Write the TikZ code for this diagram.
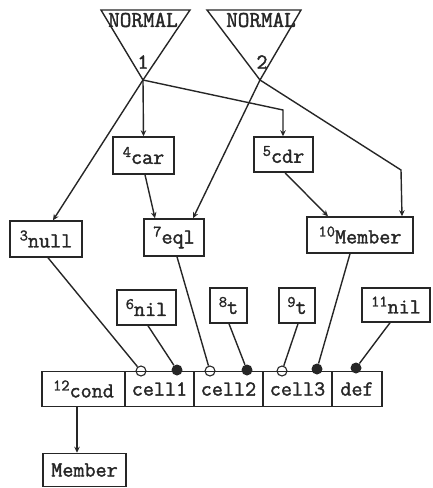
\documentclass[tikz,border=0pt]{standalone}
\usepackage{fontspec}
\setmonofont{Latin Modern Mono}[BoldFont=Latin Modern Mono, BoldFeatures={FakeBold=1.6}]
\usetikzlibrary{arrows.meta,calc}
\newcommand\nlab[2]{\raisebox{7pt}{\fontsize{16}{16}\selectfont #1}#2}
\begin{document}
\begin{tikzpicture}[x=1pt,y=-1pt,
  every node/.style={font=\fontsize{21.5}{22}\selectfont\ttfamily\bfseries, text=black!85},
  box/.style={draw=black!85,line width=1.5pt,inner sep=0pt},
  conn/.style={line width=1.4pt, draw=black!85},
  arr/.style={conn,-{Stealth[length=6pt,width=5.5pt]}},
  odot/.style={circle,draw=black!85,line width=1.1pt,minimum size=10pt,inner sep=0pt},
  fdot/.style={circle,fill=black!85,minimum size=11pt,inner sep=0pt},
  tri/.style={draw=black!85,line width=1.4pt},
]
\useasboundingbox (0,0) rectangle (432,488);

% triangles
\draw[tri] (101,10) -- (190,10) -- (143,80) -- cycle;
\draw[tri] (207,10) -- (301,10) -- (260,80) -- cycle;
\node[font=\fontsize{22.5}{22}\selectfont\ttfamily\bfseries] (n1) at (143,20) {NORMAL};
\node[font=\fontsize{22.5}{22}\selectfont\ttfamily\bfseries] (n2) at (261,20) {NORMAL};
\node (one) at (143,62) {1};
\node (two) at (262,62) {2};
\coordinate (a1) at (143,80);
\coordinate (a2) at (260,80);
\coordinate (b1) at (283,110);
\coordinate (b2) at (401,170);

% boxes
\node[box,minimum width=61pt,minimum height=37pt] (car) at (143.5,155.5) {\nlab{4}{car}};
\node[box,minimum width=59pt,minimum height=35pt] (cdr) at (283.5,154.5) {\nlab{5}{cdr}};
\node[box,minimum width=72pt,minimum height=36pt] (null) at (46,239) {\nlab{3}{null}};
\node[box,minimum width=60pt,minimum height=37pt] (eql) at (174,237.5) {\nlab{7}{eql}};
\node[box,minimum width=106pt,minimum height=36pt] (mem10) at (360,235) {\nlab{10}{Member}};
\node[box,minimum width=59pt,minimum height=35pt] (nil6) at (146.5,307.5) {\nlab{6}{nil}};
\node[box,minimum width=37pt,minimum height=35pt] (t8) at (228.5,305.5) {\nlab{8}{t}};
\node[box,minimum width=36pt,minimum height=35pt] (t9) at (297,305.5) {\nlab{9}{t}};
\node[box,minimum width=68pt,minimum height=34pt] (nil11) at (396,305) {\nlab{11}{nil}};

\node[box,minimum width=83pt,minimum height=35pt] (cond) at (83.5,389) {\nlab{12}{cond}};
\node[box,minimum width=69pt,minimum height=35pt] (cell1) at (159.5,389) {cell1};
\node[box,minimum width=69pt,minimum height=35pt] (cell2) at (228.5,389) {cell2};
\node[box,minimum width=69pt,minimum height=35pt] (cell3) at (297.5,389) {cell3};
\node[box,minimum width=50pt,minimum height=35pt] (def) at (357,389) {def};
\node[box,minimum width=83pt,minimum height=33pt] (mem) at (84.5,470) {Member};

% dots
\node[odot] (c1o) at (141,371) {};
\node[fdot] (c1f) at (177,370) {};
\node[odot] (c2o) at (210,371) {};
\node[fdot] (c2f) at (247,370) {};
\node[odot] (c3o) at (282,371) {};
\node[fdot] (c3f) at (317,369) {};
\node[fdot] (df) at (356,368) {};

% arrows from triangle apexes
\draw[arr] (a1) -- ($(null.north)+(7,0)$);
\draw[arr] (a1) -- (car.north);
\draw[arr] (a1) -- (b1) -- ($(cdr.north)+(-0.5,0)$);
\draw[arr] (a2) -- ($(eql.north)+(19,0)$);
\draw[arr] (a2) -- (b2) -- ($(mem10.north)+(42,0)$);
\draw[arr] ($(car.south)+(1.5,0)$) -- ($(eql.north)+(-19,0)$);
\draw[arr] ($(cdr.south)+(1.5,0)$) -- ($(mem10.north)+(-32,0)$);
\draw[arr] ($(cond.south)+(-6.5,0)$) -- (mem.north -| {$(cond.south)+(-6.5,0)$});

% lines to dots
\draw[conn] ($(null.south)+(2,0)$) -- (c1o);
\draw[conn] ($(nil6.south)+(1.5,0)$) -- (c1f);
\draw[conn] ($(eql.south)+(3,0)$) -- (c2o);
\draw[conn] ($(t8.south)+(0.5,0)$) -- (c2f);
\draw[conn] ($(t9.south)+(1,0)$) -- (c3o);
\draw[conn] ($(mem10.south)+(-10,0)$) -- (c3f);
\draw[conn] ($(nil11.south)+(-6,0)$) -- (df);
\end{tikzpicture}
\end{document}
